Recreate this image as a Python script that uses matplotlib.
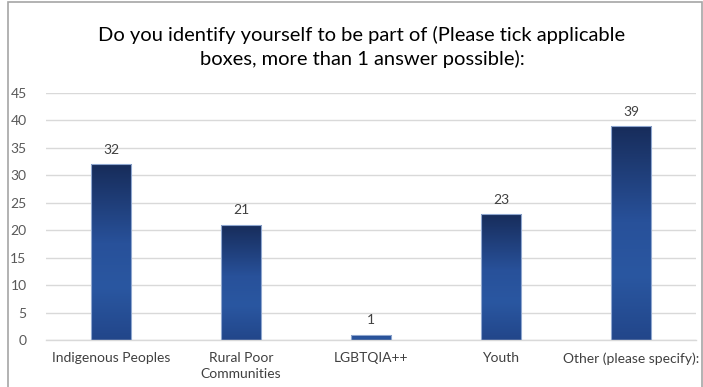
import numpy as np
import matplotlib
matplotlib.use("Agg")
import matplotlib.pyplot as plt
from matplotlib.colors import LinearSegmentedColormap
from matplotlib.patches import Rectangle

categories = ["Indigenous Peoples", "Rural Poor\nCommunities", "LGBTQIA++", "Youth",
              "Other (please specify):"]
counts = [32, 21, 1, 23, 39]
y_ticks = [0, 5, 10, 15, 20, 25, 30, 35, 40, 45]
title = "Do you identify yourself to be part of (Please tick applicable\nboxes, more than 1 answer possible):"

plt.rcParams["font.family"] = ["Lato", "DejaVu Sans"]

fig = plt.figure(figsize=(7.03, 3.87), dpi=100)
ax = fig.add_axes([46 / 703, 1 - 340 / 387, 650 / 703, 247 / 387])

# vertical gradient inside each bar (0 = base, 1 = top): dark top, lighter middle
grad_cmap = LinearSegmentedColormap.from_list(
    "bar_grad",
    [(0.0, "#22468a"), (0.3, "#2a57a1"), (0.55, "#28519a"), (1.0, "#172c5a")],
)

x = np.arange(len(categories))
width = 0.315
bars = ax.bar(x, counts, width=width, color="none", edgecolor="#8ea6cf",
              linewidth=0.8, zorder=3)
grad = np.linspace(0, 1, 256).reshape(-1, 1)
for b in bars:
    x0, h = b.get_x(), b.get_height()
    im = ax.imshow(grad, extent=[x0, x0 + b.get_width(), 0, h], origin="lower",
                   aspect="auto", cmap=grad_cmap, zorder=2)
    im.set_clip_path(b)
    ax.text(b.get_x() + b.get_width() / 2, h + 1.5, f"{h:g}", ha="center", va="bottom",
            fontsize=10, color="#404040")

ax.set_xlim(-0.5, len(categories) - 0.5)
ax.set_ylim(0, 45)
ax.set_yticks(y_ticks)
ax.set_xticks(x)
ax.set_xticklabels(categories, fontsize=10, color="#404040", linespacing=1.3)
ax.tick_params(axis="y", length=0, labelsize=10, labelcolor="#595959", pad=14)
ax.tick_params(axis="x", length=0, pad=9)
ax.grid(axis="y", color="#d9d9d9", linewidth=1.0, zorder=0)
ax.set_axisbelow(True)
for s in ["top", "right", "left"]:
    ax.spines[s].set_visible(False)
ax.spines["bottom"].set_color("#d9d9d9")
ax.spines["bottom"].set_linewidth(1.0)

fig.text(362 / 703, 1 - 47 / 387, title, ha="center", va="center", fontsize=14.5,
         color="#000000", linespacing=1.45)

# outer frame of the chart area
fig.patches.append(Rectangle((8 / 703, -0.02), 694 / 703, 1 - 2 / 387 + 0.02,
                             transform=fig.transFigure, fill=False,
                             edgecolor="#a6a6a6", linewidth=1.2))

fig.savefig("out.png", dpi=100)
